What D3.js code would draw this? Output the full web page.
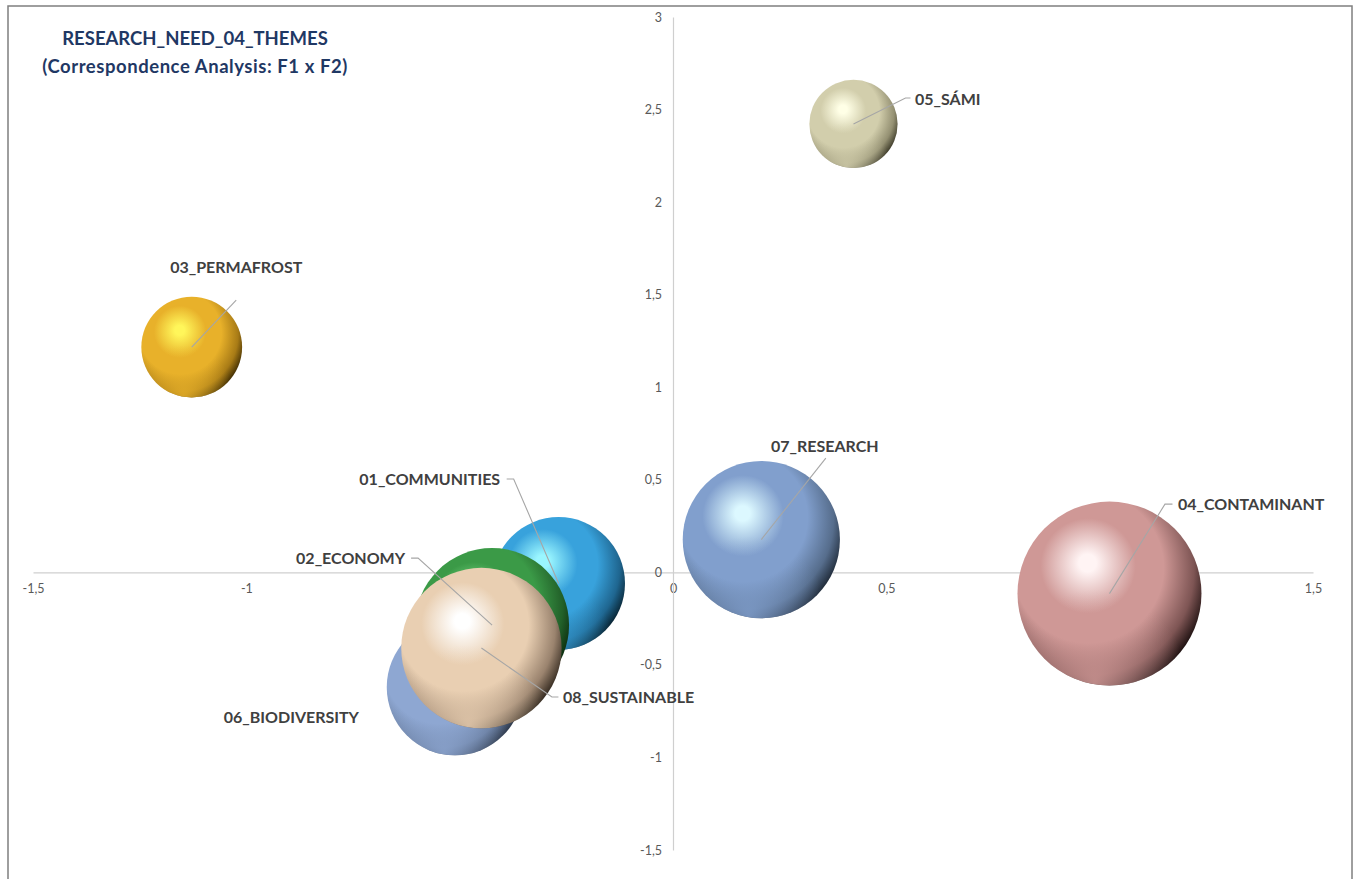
<!DOCTYPE html>
<html>
<head>
<meta charset="utf-8">
<script src="https://cdn.jsdelivr.net/npm/d3@7/dist/d3.min.js"></script>
<style>
  html, body { margin: 0; padding: 0; background: #ffffff; }
  svg { display: block; }
</style>
</head>
<body>
<svg id="chart" width="1356" height="879"></svg>
<script>
// ---------- DATA ----------
const categories = ["01_COMMUNITIES", "02_ECONOMY", "03_PERMAFROST", "04_CONTAMINANT",
                    "05_SÁMI", "06_BIODIVERSITY", "07_RESEARCH", "08_SUSTAINABLE"];
const f1Values   = [-0.268, -0.424, -1.128, 1.023, 0.423, -0.511, 0.207, -0.449];
const f2Values   = [-0.060, -0.285, 1.217, -0.115, 2.422, -0.620, 0.177, -0.409];
const sizeValues = [52, 70, 30, 100, 23, 55, 73, 76];
const xTicks = [-1.5, -1, -0.5, 0, 0.5, 1, 1.5];
const yTicks = [-1.5, -1, -0.5, 0, 0.5, 1, 1.5, 2, 2.5, 3];
const titleLines = ["RESEARCH_NEED_04_THEMES", "(Correspondence Analysis: F1 x F2)"];

// ---------- STYLE / LAYOUT ----------
const palette = {
  "01_COMMUNITIES":  {hi: "#9af6ff", base: "#38a2dc", mid: "#1f6690", dark: "#041822"},
  "02_ECONOMY":      {hi: "#86e690", base: "#3b9a47", mid: "#226029", dark: "#061f08"},
  "03_PERMAFROST":   {hi: "#fff65a", base: "#e8b12a", mid: "#a87b16", dark: "#2e2000"},
  "04_CONTAMINANT":  {hi: "#fff4f4", base: "#cf9896", mid: "#7e5554", dark: "#0c0404"},
  "05_SÁMI":         {hi: "#ffffe6", base: "#d2ceac", mid: "#949072", dark: "#302e1e"},
  "06_BIODIVERSITY": {hi: "#c4d8ff", base: "#8ea7d2", mid: "#65799a", dark: "#232d3c"},
  "07_RESEARCH":     {hi: "#dcf8ff", base: "#819fcd", mid: "#566d8c", dark: "#161f2a"},
  "08_SUSTAINABLE":  {hi: "#ffffff", base: "#e9cfb2", mid: "#9a836e", dark: "#221a12"}
};
// label placement relative to bubble centre (px): text anchor point, leader path points
const labelLayout = {
  "01_COMMUNITIES":  {tx: -58.5, ty: -104.5, anchor: "end",    line: [[-45, -104.5], [-52, -104.5]]},
  "02_ECONOMY":      {tx: -87,   ty: -66.5,  anchor: "end",    line: [[-74, -67], [-81, -67]]},
  "03_PERMAFROST":   {tx: 44.5,  ty: -80,    anchor: "middle", line: [[44.5, -47]]},
  "04_CONTAMINANT":  {tx: 68.5,  ty: -89.5,  anchor: "start",  line: [[55.5, -89.5], [63, -89.5]]},
  "05_SÁMI":         {tx: 61.5,  ty: -25,    anchor: "start",  line: [[52, -26], [57, -26]]},
  "06_BIODIVERSITY": {tx: -96,   ty: 30,     anchor: "end",    line: null},
  "07_RESEARCH":     {tx: 63.5,  ty: -93.5,  anchor: "middle", line: [[64.5, -81.5]]},
  "08_SUSTAINABLE":  {tx: 81.5,  ty: 49,     anchor: "start",  line: [[70.5, 49], [77, 49]]}
};

const W = 1356, H = 879;
const svg = d3.select("#chart");
const defs = svg.append("defs");

const x = d3.scaleLinear().domain([-1.5, 1.5]).range([33, 1313]);
const y = d3.scaleLinear().domain([-1.5, 3]).range([850, 17]);
const r = d3.scaleSqrt().domain([0, d3.max(sizeValues)]).range([0, 92]);

const locale = d3.formatLocale({decimal: ",", thousands: ".", grouping: [3], currency: ["", "€"], minus: "-"});
const fmt = locale.format("~g");

// frame
svg.append("rect")
  .attr("x", 8).attr("y", 6).attr("width", 1344).attr("height", 890)
  .attr("fill", "none").attr("stroke", "#7f7f7f").attr("stroke-width", 1.5);

// axes
const axisColor = "#cfcfcf";
const gx = svg.append("g")
  .attr("transform", `translate(0,${y(0)})`)
  .call(d3.axisBottom(x).tickValues(xTicks).tickFormat(fmt).tickSize(0).tickSizeOuter(0).tickPadding(12));
const gy = svg.append("g")
  .attr("transform", `translate(${x(0)},0)`)
  .call(d3.axisLeft(y).tickValues(yTicks).tickFormat(fmt).tickSize(0).tickSizeOuter(0).tickPadding(11));
[gx, gy].forEach(g => {
  g.select(".domain").attr("stroke", axisColor).attr("stroke-width", 1.2);
  g.selectAll("text").attr("fill", "#595959").attr("font-family", "Lato, 'Open Sans', sans-serif")
    .attr("font-size", 12.5);
});

// data table
const data = categories.map((c, i) => ({name: c, f1: f1Values[i], f2: f2Values[i], size: sizeValues[i]}));

// gradients
data.forEach((d, i) => {
  const p = palette[d.name];
  const g = defs.append("radialGradient").attr("id", "g" + i)
    .attr("cx", "0.39").attr("cy", "0.38").attr("r", "0.68")
    .attr("fx", "0.38").attr("fy", "0.33");
  g.append("stop").attr("offset", "0").attr("stop-color", p.hi);
  g.append("stop").attr("offset", "0.07").attr("stop-color", p.hi);
  g.append("stop").attr("offset", "0.38").attr("stop-color", p.base);
  g.append("stop").attr("offset", "0.6").attr("stop-color", p.base);
  g.append("stop").attr("offset", "0.84").attr("stop-color", p.mid);
  g.append("stop").attr("offset", "1").attr("stop-color", p.dark);
  const rim = defs.append("radialGradient").attr("id", "rim" + i)
    .attr("cx", "0.42").attr("cy", "0.98").attr("r", "0.5");
  rim.append("stop").attr("offset", "0").attr("stop-color", p.base).attr("stop-opacity", 0.85);
  rim.append("stop").attr("offset", "0.6").attr("stop-color", p.base).attr("stop-opacity", 0.35);
  rim.append("stop").attr("offset", "1").attr("stop-color", p.base).attr("stop-opacity", 0);
});

// bubbles
const bubbles = svg.append("g").selectAll("g").data(data).join("g")
  .attr("transform", d => `translate(${x(d.f1)},${y(d.f2)})`);
bubbles.append("circle").attr("r", d => r(d.size)).attr("fill", (d, i) => `url(#g${i})`);
bubbles.append("circle").attr("r", d => r(d.size)).attr("fill", (d, i) => `url(#rim${i})`);

// leader lines & labels
const labels = svg.append("g");
data.forEach(d => {
  const L = labelLayout[d.name];
  const cx = x(d.f1), cy = y(d.f2);
  if (L.line) {
    const pts = [[0, 0]].concat(L.line).map(p => [cx + p[0], cy + p[1]]);
    labels.append("path").attr("d", d3.line()(pts))
      .attr("fill", "none").attr("stroke", "#a6a6a6").attr("stroke-width", 1.1);
  }
  labels.append("text")
    .attr("x", cx + L.tx).attr("y", cy + L.ty)
    .attr("dy", "0.36em")
    .attr("text-anchor", L.anchor)
    .attr("font-family", "Lato, 'Open Sans', sans-serif")
    .attr("font-weight", "bold").attr("font-size", 16)
    .attr("fill", "#404040")
    .text(d.name);
});

// title
const title = svg.append("text")
  .attr("x", 195).attr("y", 38)
  .attr("text-anchor", "middle")
  .attr("font-family", "Lato, 'Open Sans', sans-serif")
  .attr("font-weight", "bold").attr("font-size", 18.5)
  .attr("fill", "#1f3864");
title.selectAll("tspan").data(titleLines).join("tspan")
  .attr("x", 195).attr("dy", (d, i) => i === 0 ? "0.36em" : "1.55em")
  .attr("letter-spacing", (d, i) => i === 0 ? 0 : 0.55)
  .text(d => d);
</script>
</body>
</html>
